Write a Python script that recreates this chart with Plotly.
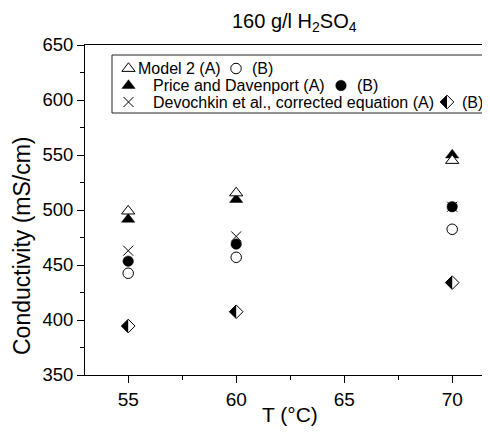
import plotly.graph_objects as go

# ---------------- data ----------------
T = [55, 60, 70]
model2_A = [499, 515.5, 545]
model2_B = [442.5, 457, 482.5]
price_A = [491.5, 509.5, 550]
price_B = [453.5, 469, 503]
devochkin_A = [463, 476, 503]
devochkin_B = [394.5, 407.5, 434]

x_ticks = [55, 60, 65, 70]
y_ticks = [350, 400, 450, 500, 550, 600, 650]

title_text = "160 g/l H<sub>2</sub>SO<sub>4</sub>"
x_title = "T (°C)"
y_title = "Conductivity (mS/cm)"

legend_rows = [
    ("Model 2 (A)", "(B)"),
    ("Price and Davenport (A)", "(B)"),
    ("Devochkin et al., corrected equation (A)", "(B)"),
]

# ---------------- layout geometry ----------------
# The page body adds an 8px margin, so the figure is drawn 8px smaller/offset.
OFF = 8
W, H = 490 - OFF, 439 - OFF
PL, PR, PT, PB = 85, 490, 45, 375          # plot area in screen pixels
L, R, TOP, B = PL - OFF, 0, PT - OFF, H - (PB - OFF)
FONT = "Arial, 'Liberation Sans', sans-serif"


def fx(sx):
    return (sx - PL) / (PR - PL)


def fy(sy):
    return (PB - sy) / (PB - PT)


TRI = 11.5
CIR = 10.5
XS = 10
DIA = 10.5

fig = go.Figure()


def half_diamond(x, y, xa="x", ya="y"):
    fig.add_trace(go.Scatter(x=x, y=y, xaxis=xa, yaxis=ya, mode="markers", cliponaxis=False,
                             marker=dict(symbol="diamond", size=DIA, color="black",
                                         line=dict(width=0)), hoverinfo="skip", showlegend=False))
    fig.add_trace(go.Scatter(x=x, y=y, xaxis=xa, yaxis=ya, mode="markers", cliponaxis=False,
                             marker=dict(symbol="square", size=16, color="white", angle=-90,
                                         standoff=8, line=dict(width=0)),
                             hoverinfo="skip", showlegend=False))
    fig.add_trace(go.Scatter(x=x, y=y, xaxis=xa, yaxis=ya, mode="markers", cliponaxis=False,
                             marker=dict(symbol="diamond-open", size=DIA, color="black",
                                         line=dict(width=1, color="black")),
                             hoverinfo="skip", showlegend=False))


def tri_filled(x, y, xa="x", ya="y"):
    fig.add_trace(go.Scatter(x=x, y=y, xaxis=xa, yaxis=ya, mode="markers", cliponaxis=False,
                             marker=dict(symbol="triangle-up", size=TRI, color="black",
                                         line=dict(width=0.5, color="black")),
                             showlegend=False))


def tri_open(x, y, xa="x", ya="y"):
    fig.add_trace(go.Scatter(x=x, y=y, xaxis=xa, yaxis=ya, mode="markers", cliponaxis=False,
                             marker=dict(symbol="triangle-up", size=TRI, color="white",
                                         line=dict(width=1, color="black")),
                             showlegend=False))


def circ_filled(x, y, xa="x", ya="y"):
    fig.add_trace(go.Scatter(x=x, y=y, xaxis=xa, yaxis=ya, mode="markers", cliponaxis=False,
                             marker=dict(symbol="circle", size=CIR, color="black",
                                         line=dict(width=0.5, color="black")),
                             showlegend=False))


def circ_open(x, y, xa="x", ya="y"):
    fig.add_trace(go.Scatter(x=x, y=y, xaxis=xa, yaxis=ya, mode="markers", cliponaxis=False,
                             marker=dict(symbol="circle-open", size=CIR, color="black",
                                         line=dict(width=1, color="black")),
                             showlegend=False))


def xmark(x, y, xa="x", ya="y"):
    fig.add_trace(go.Scatter(x=x, y=y, xaxis=xa, yaxis=ya, mode="markers", cliponaxis=False,
                             marker=dict(symbol="x-thin-open", size=XS, color="black",
                                         line=dict(width=1, color="black")),
                             showlegend=False))


# ---------------- data marks ----------------
tri_filled(T, price_A)
tri_open(T, model2_A)
circ_filled(T, price_B)
circ_open(T, model2_B)
xmark(T, devochkin_A)
half_diamond(T, devochkin_B)

# ---------------- custom legend (screen-pixel overlay axes) ----------------
rows_y = [68.5, 85.5, 102]
sym_a_x = 128.5
text_a_x = [136, 151, 151]
sym_b_x = [236, 341, 447]
text_b_x = [250, 355, 460]

tri_open([sym_a_x], [rows_y[0]], "x2", "y2")
circ_open([sym_b_x[0]], [rows_y[0]], "x2", "y2")
tri_filled([sym_a_x], [rows_y[1]], "x2", "y2")
circ_filled([sym_b_x[1]], [rows_y[1]], "x2", "y2")
xmark([sym_a_x], [rows_y[2]], "x2", "y2")
half_diamond([sym_b_x[2]], [rows_y[2]], "x2", "y2")

annotations = []
for i, (ta, tb) in enumerate(legend_rows):
    annotations.append(dict(x=text_a_x[i], y=rows_y[i], xref="x2", yref="y2", text=ta,
                            showarrow=False, xanchor="left", yanchor="middle",
                            font=dict(family=FONT, size=16, color="black")))
    annotations.append(dict(x=text_b_x[i], y=rows_y[i], xref="x2", yref="y2", text=tb,
                            showarrow=False, xanchor="left", yanchor="middle",
                            font=dict(family=FONT, size=16, color="black")))

annotations.append(dict(x=fx(294), y=fy(22), xref="paper", yref="paper", text=title_text,
                        showarrow=False, xanchor="center", yanchor="middle",
                        font=dict(family=FONT, size=20, color="black")))
annotations.append(dict(x=fx(290), y=fy(415), xref="paper", yref="paper", text=x_title,
                        showarrow=False, xanchor="center", yanchor="middle",
                        font=dict(family=FONT, size=21, color="black")))
annotations.append(dict(x=fx(22), y=fy(246), xref="paper", yref="paper", text=y_title,
                        showarrow=False, xanchor="center", yanchor="middle", textangle=-90,
                        font=dict(family=FONT, size=23, color="black")))

shapes = [dict(type="rect", xref="x2", yref="y2", x0=112, x1=486, y0=55, y1=113,
               line=dict(color="#222", width=1), fillcolor="rgba(0,0,0,0)", layer="above")]

fig.update_layout(
    width=W, height=H,
    margin=dict(l=L, r=R, t=TOP, b=B, pad=0),
    paper_bgcolor="white", plot_bgcolor="white",
    font=dict(family=FONT, size=19, color="black"),
    showlegend=False,
    annotations=annotations,
    shapes=shapes,
    xaxis=dict(range=[53, 71.75], tickvals=x_ticks, ticktext=[str(v) for v in x_ticks],
               showline=True, linecolor="black", linewidth=1, mirror=True,
               ticks="outside", ticklen=7, tickwidth=1, tickcolor="black",
               minor=dict(ticks="outside", ticklen=4, tickwidth=1, tickcolor="black",
                          tick0=52.5, dtick=2.5),
               showgrid=False, zeroline=False,
               tickfont=dict(family=FONT, size=19, color="black")),
    yaxis=dict(range=[350, 650], tickvals=y_ticks, ticktext=[str(v) for v in y_ticks],
               showline=True, linecolor="black", linewidth=1, mirror=False,
               ticks="outside", ticklen=7, tickwidth=1, tickcolor="black",
               minor=dict(ticks="outside", ticklen=4, tickwidth=1, tickcolor="black",
                          tick0=325, dtick=25),
               showgrid=False, zeroline=False,
               tickfont=dict(family=FONT, size=18.5, color="black")),
    xaxis2=dict(range=[PL, PR], overlaying="x", visible=False, fixedrange=True),
    yaxis2=dict(range=[PB, PT], overlaying="y", visible=False, fixedrange=True),
)

fig.write_html("out.html")
